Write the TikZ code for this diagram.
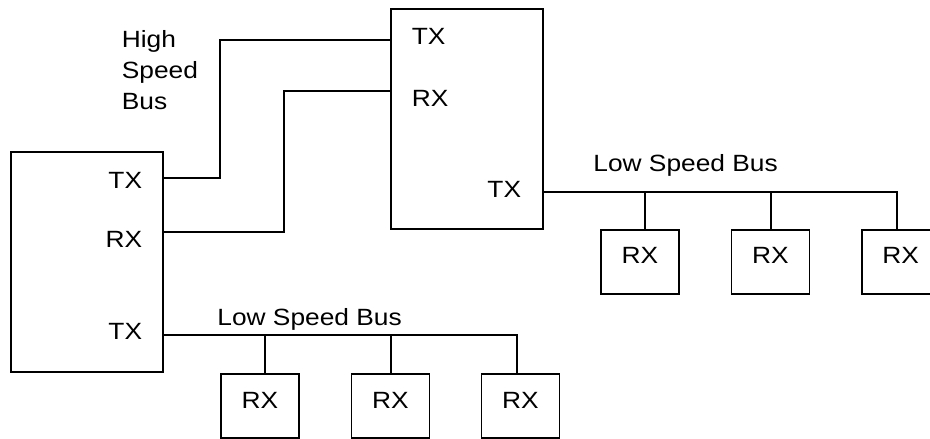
\documentclass[tikz,border=0pt]{standalone}
\usepackage{fontspec}
\setmainfont{Liberation Sans}[FakeStretch=1.12]
\begin{document}
\begin{tikzpicture}[x=1pt,y=-1pt,line width=1.8pt,
        every node/.style={font=\fontsize{23.5}{31}\selectfont,inner sep=0pt},
        unit/.style={draw,minimum width=152.6pt,minimum height=220pt},
        rxbox/.style={draw,minimum width=78pt,minimum height=64pt,text depth=12pt}]
        \clip (0,0) rectangle (930,439);

        \node[unit] (left) at (87,262) {};
        \node[unit] (top) at (467,119.3) {};

        \node[anchor=east] (ltx) at (143,180) {TX};
        \node[anchor=east] (lrx) at (143,239) {RX};
        \node[anchor=east] (ltx2) at (143,331) {TX};
        \node[anchor=west] (ttx) at (411,36) {TX};
        \node[anchor=west] (trx) at (411,98) {RX};
        \node[anchor=east] (ttx2) at (522,189) {TX};

        \node[anchor=north west,align=left] (hsb) at (121,29.3) {High\\Speed\\Bus};
        \node[anchor=base west] (lsb1) at (592.5,171.7) {Low Speed Bus};
        \node[anchor=base west] (lsb2) at (216.5,325) {Low Speed Bus};

        \node[rxbox] (r1) at (640,261.7) {RX};
        \node[rxbox] (r2) at (770.5,261.7) {RX};
        \node[rxbox] (r3) at (900.7,261.7) {RX};
        \node[rxbox] (b1) at (260,406) {RX};
        \node[rxbox] (b2) at (390.5,406) {RX};
        \node[rxbox] (b3) at (520.5,406) {RX};

        \coordinate (hs1) at (220,178.3);
        \coordinate (hs1t) at (220,40);
        \coordinate (hs2) at (284.3,232.3);
        \coordinate (hs2t) at (284.3,90.7);
        \draw (left.east |- hs1) -- (hs1) -- (hs1t) -- (top.west |- hs1t);
        \draw (left.east |- hs2) -- (hs2) -- (hs2t) -- (top.west |- hs2t);

        \coordinate (ls1a) at (645,192.3);
        \coordinate (ls1b) at (770.7,192.3);
        \coordinate (ls1c) at (896.7,192.3);
        \draw (top.east |- ls1c) -- (ls1c) -- (ls1c |- r3.north);
        \draw (ls1a) -- (ls1a |- r1.north);
        \draw (ls1b) -- (ls1b |- r2.north);

        \coordinate (ls2a) at (265,334.7);
        \coordinate (ls2b) at (390.7,334.7);
        \coordinate (ls2c) at (516.7,334.7);
        \draw (left.east |- ls2c) -- (ls2c) -- (ls2c |- b3.north);
        \draw (ls2a) -- (ls2a |- b1.north);
        \draw (ls2b) -- (ls2b |- b2.north);
    \end{tikzpicture}
\end{document}
